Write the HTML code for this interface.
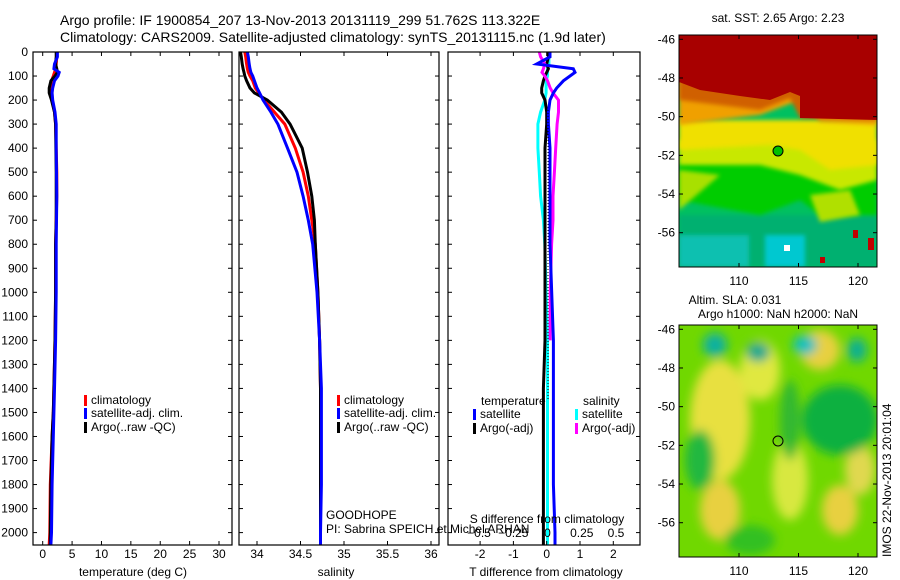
<!DOCTYPE html>
<html><head><meta charset="utf-8"><style>
html,body{margin:0;padding:0;background:#fff;}
svg{display:block;font-family:"Liberation Sans",sans-serif;}
text{fill:#000;}
</style></head><body>
<svg id="fig" width="900" height="580" viewBox="0 0 900 580">
<defs>
<clipPath id="c1"><rect x="33" y="52" width="199" height="493"/></clipPath>
<clipPath id="c2"><rect x="239" y="52" width="200" height="493"/></clipPath>
<clipPath id="c3"><rect x="448" y="52" width="192" height="493"/></clipPath>
<clipPath id="cm1"><rect x="679" y="35" width="198" height="232"/></clipPath>
<clipPath id="cm2"><rect x="679" y="325" width="198" height="232"/></clipPath>
<filter id="bl" x="-20%" y="-20%" width="140%" height="140%"><feGaussianBlur stdDeviation="5"/></filter>
<filter id="bl2"><feGaussianBlur stdDeviation="2"/></filter>
</defs>

<text x="60" y="25" font-size="14">Argo profile: IF 1900854_207 13-Nov-2013 20131119_299 51.762S 113.322E</text>
<text x="60" y="42" font-size="14">Climatology: CARS2009. Satellite-adjusted climatology: synTS_20131115.nc (1.9d later)</text>

<!-- top SST map -->
<g clip-path="url(#cm1)">
<rect x="679" y="35" width="198" height="232" fill="#00c060"/>
<rect x="679" y="215" width="198" height="52" fill="#00b070" filter="url(#bl2)"/>
<rect x="679" y="235" width="70" height="32" fill="#10c0b0" filter="url(#bl2)"/>
<rect x="765" y="235" width="40" height="32" fill="#00c8d0" filter="url(#bl2)"/>
<polygon points="679,160 877,160 877,215 820,215 800,200 760,215 679,200" fill="#00cc00" filter="url(#bl2)"/>
<polygon points="679,170 720,175 679,210" fill="#a8e000" filter="url(#bl2)"/>
<polygon points="810,195 850,190 860,215 820,222" fill="#b0e000" filter="url(#bl2)"/>
<polygon points="679,140 877,140 877,180 840,190 800,175 760,165 679,165" fill="#c8e800" filter="url(#bl2)"/>
<polygon points="679,120 877,120 877,165 830,170 800,150 770,145 679,150" fill="#f0e000" filter="url(#bl2)"/>
<polygon points="679,78 877,78 877,125 820,122 800,100 760,115 679,125" fill="#f0a000" filter="url(#bl2)"/>
<polygon points="679,78 877,78 877,120 800,118 790,98 760,110 720,105 679,100" fill="#d06000" filter="url(#bl2)"/>
<polygon points="679,35 877,35 877,120 800,118 800,96 790,92 770,100 740,96 700,90 679,82" fill="#a80000"/>
<rect x="784" y="245" width="6" height="6" fill="#fff"/>
<rect x="853" y="230" width="5" height="8" fill="#c00000"/>
<rect x="868" y="238" width="6" height="12" fill="#c00000"/>
<rect x="820" y="257" width="5" height="6" fill="#c00000"/>
<circle cx="778" cy="151" r="5" fill="#00c000" stroke="#000" stroke-width="1"/>
</g>
<rect x="679" y="35" width="198" height="232" fill="none" stroke="#000"/>
<text x="778" y="22" font-size="12" text-anchor="middle">sat. SST: 2.65 Argo: 2.23</text>

<!-- bottom SLA map -->
<g clip-path="url(#cm2)">
<rect x="679" y="325" width="198" height="232" fill="#70d800"/>
<g filter="url(#bl)">
<ellipse cx="720" cy="420" rx="30" ry="60" fill="#e8e040"/>
<ellipse cx="760" cy="370" rx="20" ry="30" fill="#e0e840"/>
<ellipse cx="790" cy="480" rx="18" ry="40" fill="#d8e840"/>
<ellipse cx="720" cy="510" rx="20" ry="30" fill="#e8d040"/>
<ellipse cx="840" cy="510" rx="18" ry="25" fill="#e8d040"/>
<ellipse cx="820" cy="350" rx="20" ry="20" fill="#e8d040"/>
<ellipse cx="860" cy="470" rx="15" ry="25" fill="#e0d850"/>
<ellipse cx="840" cy="420" rx="38" ry="35" fill="#10b040"/>
<ellipse cx="700" cy="460" rx="15" ry="30" fill="#20b840"/>
<ellipse cx="750" cy="540" rx="25" ry="15" fill="#30c020"/>
<ellipse cx="715" cy="345" rx="12" ry="12" fill="#10b0a0"/>
<ellipse cx="758" cy="352" rx="12" ry="10" fill="#10a890"/>
<ellipse cx="805" cy="345" rx="12" ry="10" fill="#10c0c0"/>
<ellipse cx="857" cy="350" rx="10" ry="12" fill="#10b090"/>
<ellipse cx="790" cy="420" rx="10" ry="40" fill="#30b830"/>
</g>
<circle cx="778" cy="441" r="5" fill="none" stroke="#000" stroke-width="1"/>
</g>
<rect x="679" y="325" width="198" height="232" fill="none" stroke="#000"/>
<text x="735" y="304" font-size="12" text-anchor="middle">Altim. SLA: 0.031</text>
<text x="778" y="318" font-size="12" text-anchor="middle">Argo h1000: NaN h2000: NaN</text>
<text transform="translate(891,557) rotate(-90)" font-size="12">IMOS 22-Nov-2013 20:01:04</text>

<g id="plots"></g>
</svg>
<script>
// shared depths (dbar)
const depth = [0,20,50,70,85,100,120,150,170,200,250,300,400,500,600,700,800,1000,1200,1400,1500,1600,1800,2000,2050];
// temperature (deg C)
const tClim = [2.4,2.4,2.3,2.2,2.0,1.8,1.5,1.4,1.4,1.6,2.0,2.2,2.3,2.4,2.4,2.3,2.2,2.2,2.1,1.9,1.8,1.6,1.3,1.2,1.1];
const tSat  = [2.5,2.5,2.0,1.9,2.8,2.6,2.0,1.7,1.6,1.7,2.1,2.3,2.3,2.35,2.4,2.35,2.3,2.3,2.2,2.0,1.9,1.8,1.6,1.5,1.4];
const tArgo = [2.3,2.3,2.2,2.4,2.5,2.1,1.4,1.1,1.1,1.5,2.0,2.2,2.25,2.3,2.3,2.3,2.2,2.2,2.1,1.9,1.8,1.6,1.4,1.3,1.3];
// salinity
const sClim = [33.86,33.87,33.88,33.89,33.90,33.92,33.95,33.98,34.02,34.08,34.20,34.32,34.44,34.53,34.59,34.63,34.67,34.70,34.72,34.73,34.73,34.73,34.73,34.73,34.73];
const sSat  = [33.89,33.90,33.91,33.92,33.93,33.95,33.97,34.00,34.03,34.07,34.16,34.24,34.35,34.46,34.53,34.59,34.64,34.69,34.72,34.74,34.74,34.74,34.74,34.73,34.73];
const sArgo = [33.81,33.82,33.83,33.84,33.85,33.86,33.88,33.92,33.97,34.12,34.28,34.38,34.52,34.58,34.63,34.66,34.67,34.70,34.72,34.73,34.73,34.73,34.73,34.73,34.73];
// differences
const dTsat  = [0.1,0.1,-0.3,0.8,0.85,0.7,0.5,0.3,0.2,0.1,0.05,0.05,0.1,0.1,0.1,0.1,0.1,0.15,0.2,0.2,0.2,0.2,0.2,0.25,0.25];
const dTargo = [0.05,0.05,0.0,0.05,0.0,-0.05,-0.1,-0.15,-0.15,-0.05,0.0,0.0,-0.05,-0.05,-0.05,-0.05,-0.05,-0.05,-0.05,-0.1,-0.1,-0.1,-0.1,-0.1,-0.1];
const dSsat  = [0.01,0.01,0.01,0.0,0.0,0.0,-0.01,-0.01,-0.01,-0.02,-0.05,-0.07,-0.07,-0.06,-0.05,-0.03,-0.02,-0.01,0.0,0.0,0.0,0.0,0.0,0.0,0.0];
const dSargo = [-0.06,-0.05,-0.02,-0.03,-0.04,-0.02,0.0,0.02,0.04,0.08,0.08,0.07,0.06,0.05,0.04,0.04,0.03,0.02,0.02,null,null,null,null,null,null];
const yTicks = [0,100,200,300,400,500,600,700,800,900,1000,1100,1200,1300,1400,1500,1600,1700,1800,1900,2000];
const tTicks = [0,5,10,15,20,25,30];
const sTicks = [34,34.5,35,35.5,36];
const dtTicks = [-2,-1,0,1,2];
const dsTicks = [-0.5,-0.25,0,0.25,0.5];

const NS='http://www.w3.org/2000/svg';
const root=document.getElementById('plots');
const yS = d => 52 + d*0.2403;
function mk(tag, attrs, parent){const e=document.createElementNS(NS,tag);for(const k in attrs)e.setAttribute(k,attrs[k]);(parent||root).appendChild(e);return e;}
function lin(d0,d1,p0,p1){return v=>p0+(v-d0)*(p1-p0)/(d1-d0);}
function txt(x,y,s,anchor,size,name,parent){const t=mk('text',{x:x,y:y,'font-size':size||12,'text-anchor':anchor||'start'},parent);t.textContent=s;


return t;}
function line(xs,xf,color,clip,name){let p='';let pen=false;
for(let i=0;i<depth.length;i++){const v=xs[i];if(v===null||v===undefined){pen=false;continue;}
const x=xf(v).toFixed(1),y=yS(depth[i]).toFixed(1);p+=(pen?'L':'M')+x+','+y;pen=true;}
const e=mk('path',{d:p,fill:'none',stroke:color,'stroke-width':3,'clip-path':'url(#'+clip+')'});


}
function frame(x0,x1,name){const r=mk('rect',{x:x0,y:52,width:x1-x0,height:493,fill:'none',stroke:'#000','stroke-width':1.2});


}
function xt(ticks,xf,ylab,fmt,name){ticks.forEach(t=>{const x=xf(t);
mk('line',{x1:x,x2:x,y1:52,y2:56,stroke:'#000'});mk('line',{x1:x,x2:x,y1:541,y2:545,stroke:'#000'});
if(ylab)txt(x,ylab,fmt?fmt(t):String(t),'middle',12,name);});}
function yt(x0,x1,labels){yTicks.forEach(d=>{const y=yS(d);mk('line',{x1:x0,x2:x0+4,y1:y,y2:y,stroke:'#000'});mk('line',{x1:x1-4,x2:x1,y1:y,y2:y,stroke:'#000'});
if(labels)txt(28,y+4,String(d),'end',12,'y-tick-label');});}
function leg(x,y,color,label,name){const r=mk('rect',{x:x,y:y-9,width:3,height:11,fill:color});


txt(x+7,y,label,'start',12,name);}

// panel 1 temperature
const xT=lin(0,30,42.7,219);
line(tClim,xT,'#f00','c1','temp-climatology-line');
line(tArgo,xT,'#000','c1','temp-argo-line');
line(tSat,xT,'#00f','c1','temp-satellite-line');
frame(33,232,'temperature-axes');yt(33,232,true);xt(tTicks,xT,558,null,'temp-x-tick');
txt(133,576,'temperature (deg C)','middle',12,'temperature-axis-title');
leg(84,404,'#f00','climatology','legend-climatology');
leg(84,417,'#00f','satellite-adj. clim.','legend-satellite-adj');
leg(84,431,'#000','Argo(..raw -QC)','legend-argo');

// panel 2 salinity
const xS=lin(34,36,257,431);
line(sClim,xS,'#f00','c2','sal-climatology-line');
line(sArgo,xS,'#000','c2','sal-argo-line');
line(sSat,xS,'#00f','c2','sal-satellite-line');
frame(239,439,'salinity-axes');yt(239,439,false);xt(sTicks,xS,558,null,'sal-x-tick');
txt(336,576,'salinity','middle',12,'salinity-axis-title');
leg(337,404,'#f00','climatology','legend2-climatology');
leg(337,417,'#00f','satellite-adj. clim.','legend2-satellite-adj');
leg(337,431,'#000','Argo(..raw -QC)','legend2-argo');

// panel 3 differences
const xdT=lin(0,2,546.7,613.3);
const xdS=lin(0,0.5,547.5,616);
line(dSsat,xdS,'#0ff','c3','sdiff-satellite-line');
line(dTargo,xdT,'#000','c3','tdiff-argo-line');
line(dSargo,xdS,'#f0f','c3','sdiff-argo-line');
line(dTsat,xdT,'#00f','c3','tdiff-satellite-line');
mk('line',{x1:548,x2:548,y1:110,y2:400,stroke:'#000','stroke-dasharray':'1,2'});
frame(448,640,'difference-axes');yt(448,640,false);xt(dtTicks,xdT,558,null,'tdiff-x-tick');
dsTicks.forEach(t=>txt(xdS(t),537,String(t).replace('-','\u2212'),'middle',12,'sdiff-tick-label'));
txt(547,523,'S difference from climatology','middle',12,'sdiff-axis-title');
txt(546,576,'T difference from climatology','middle',12,'tdiff-axis-title');
txt(481,405,'temperature','start',12,'legend3-temperature-heading');
txt(583,405,'salinity','start',12,'legend3-salinity-heading');
leg(473,418,'#00f','satellite','legend3-t-satellite');
leg(473,432,'#000','Argo(-adj)','legend3-t-argo');
leg(575,418,'#0ff','satellite','legend3-s-satellite');
leg(575,432,'#f0f','Argo(-adj)','legend3-s-argo');

txt(326,519,'GOODHOPE','start',12,'project-label');
txt(326,533,'PI: Sabrina SPEICH et Michel ARHAN','start',12,'pi-label');

// map axis labels
[[-46,39.3],[-48,78],[-50,116.7],[-52,155.4],[-54,194],[-56,232.7]].forEach(function(a){});
const latTicks=[-46,-48,-50,-52,-54,-56];
const lonTicks=[110,115,120];
const latY1=lin(-46,-56,39.3,232.7), latY2=lin(-46,-56,329.3,522.7), lonX=lin(110,120,739,858);
latTicks.forEach(l=>{txt(675,latY1(l)+4,String(l),'end',12,'sst-lat-label');txt(675,latY2(l)+4,String(l),'end',12,'sla-lat-label');
[latY1(l),latY2(l)].forEach(y=>{mk('line',{x1:679,x2:683,y1:y,y2:y,stroke:'#000'});mk('line',{x1:873,x2:877,y1:y,y2:y,stroke:'#000'});});});
lonTicks.forEach(l=>{const x=lonX(l);txt(x,285,String(l),'middle',12,'sst-lon-label');txt(x,575,String(l),'middle',12,'sla-lon-label');
[[35,39],[263,267],[325,329],[553,557]].forEach(p=>mk('line',{x1:x,x2:x,y1:p[0],y2:p[1],stroke:'#000'}));});
</script>
</body></html>
